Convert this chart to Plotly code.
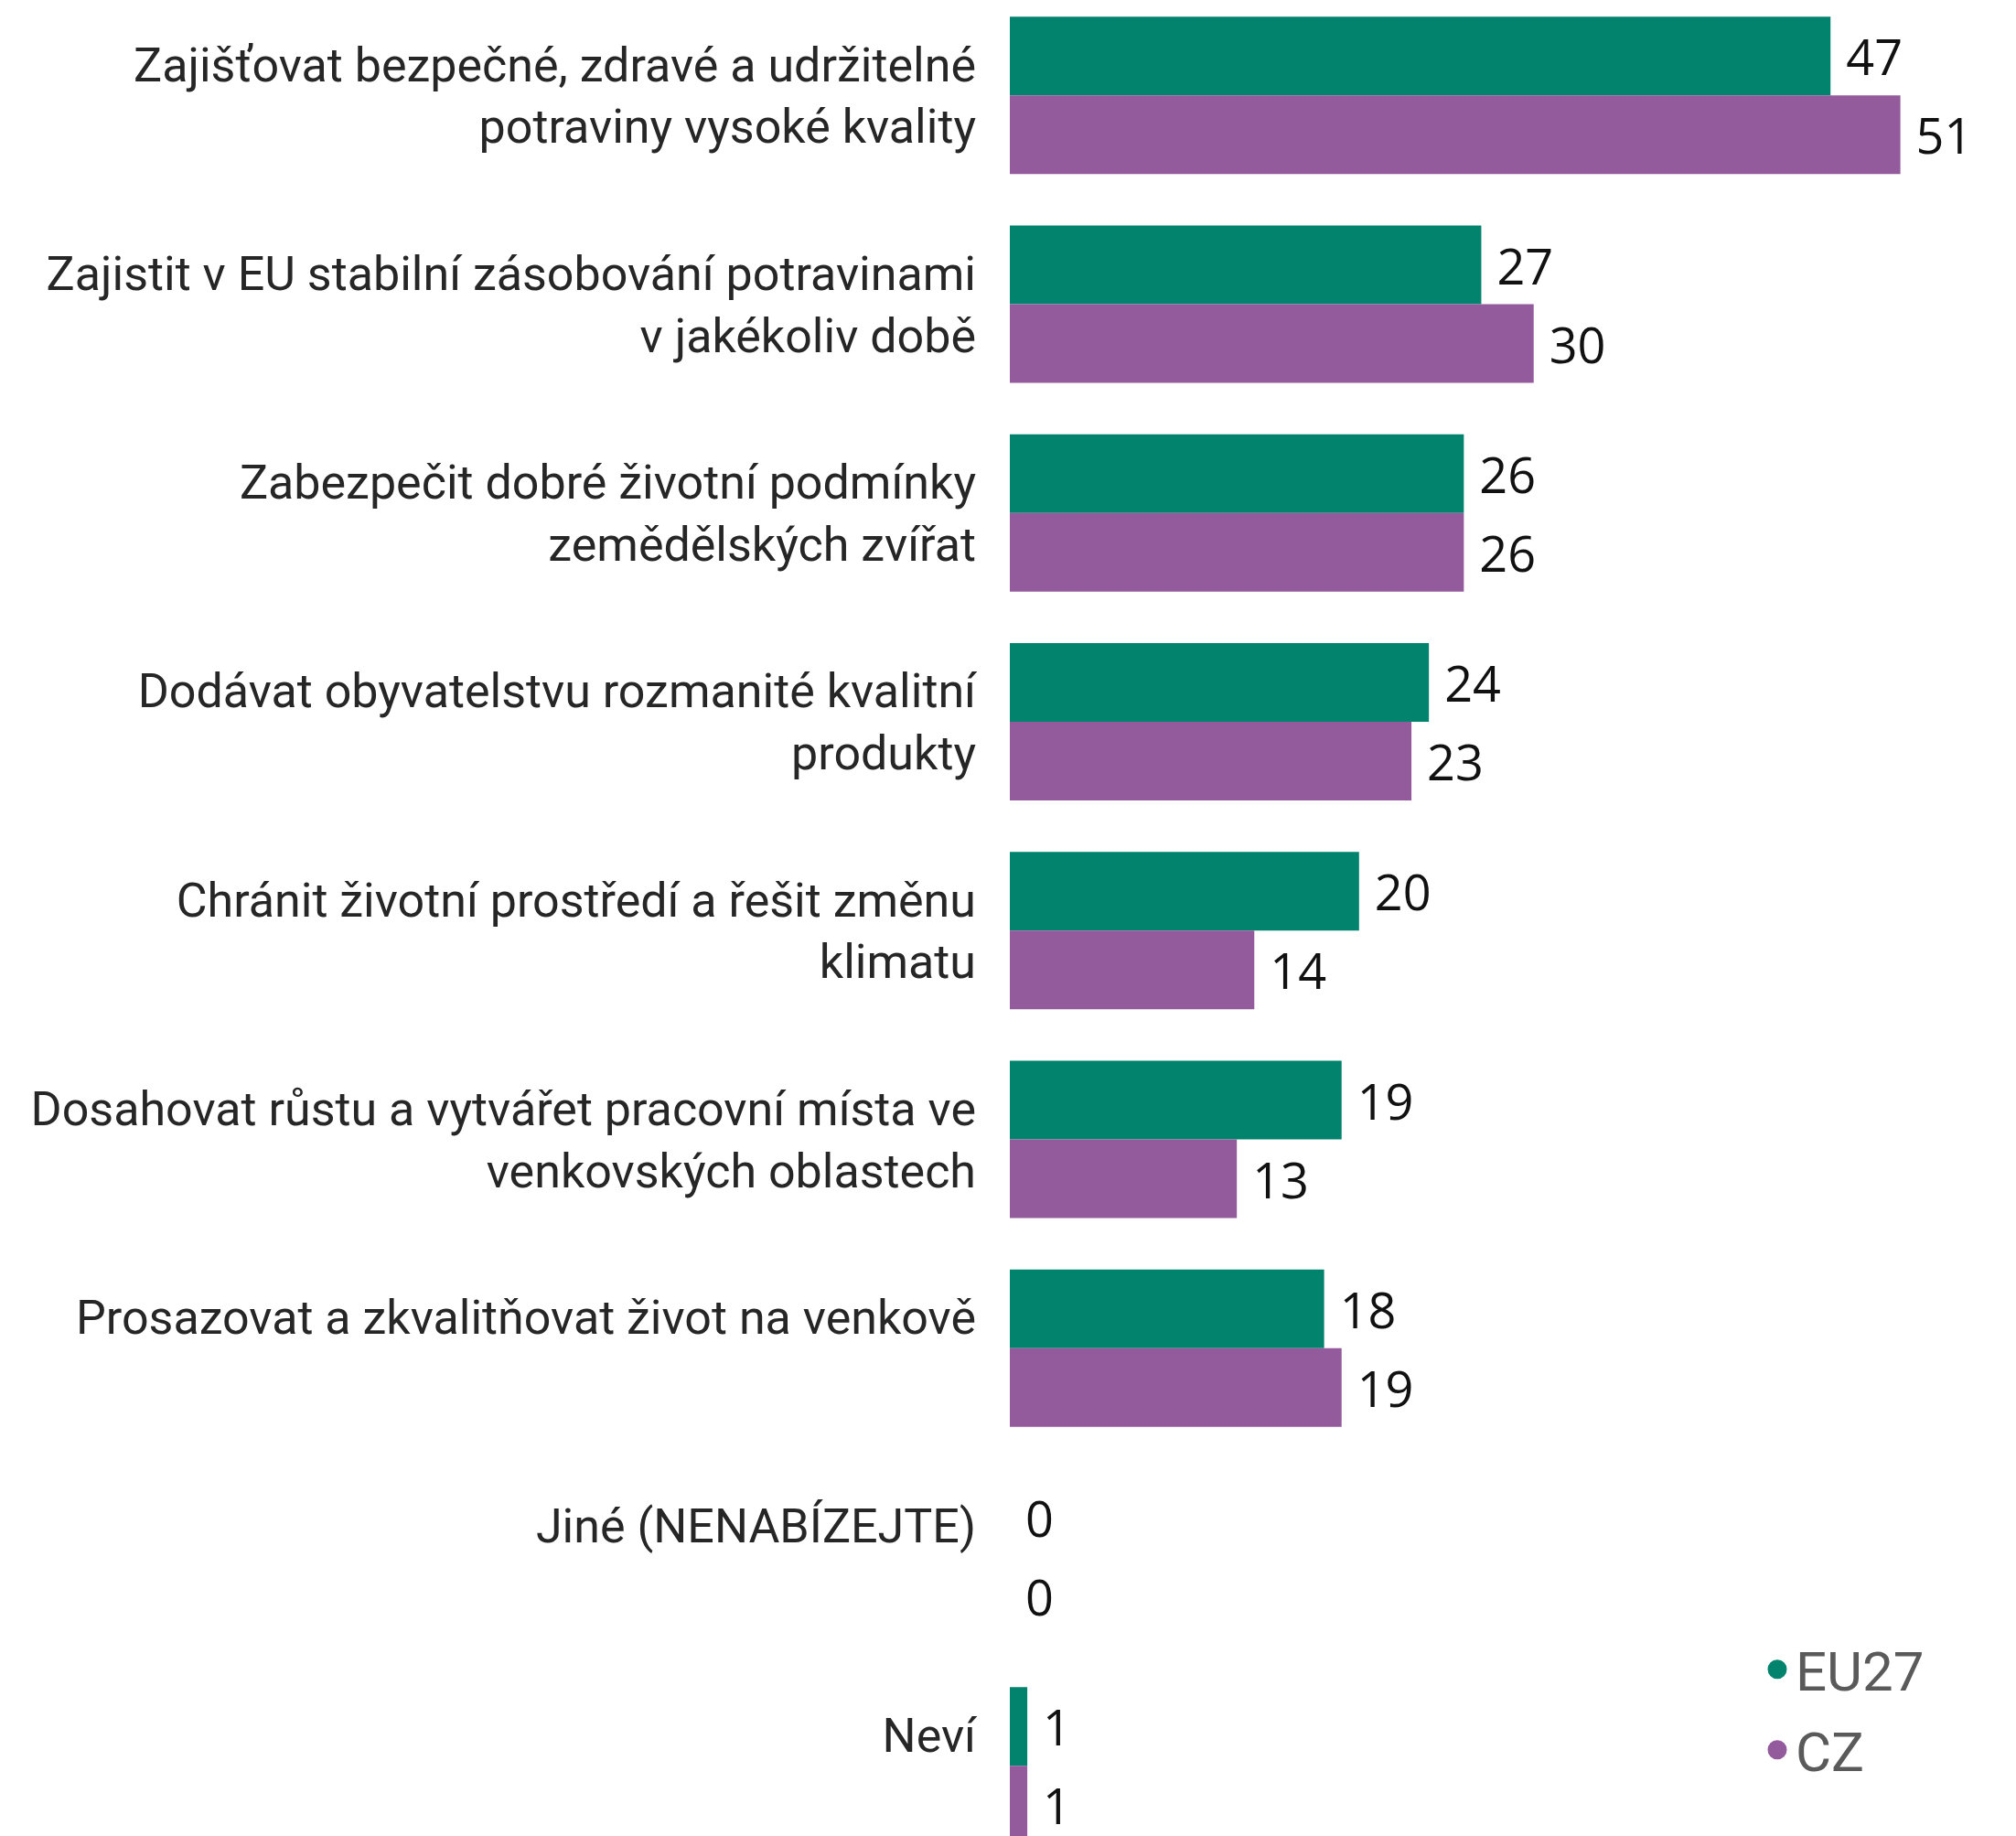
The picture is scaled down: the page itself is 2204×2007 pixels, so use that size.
import plotly.graph_objects as go

categories = [
    "Zajišťovat bezpečné, zdravé a udržitelné<br>potraviny vysoké kvality",
    "Zajistit v EU stabilní zásobování potravinami<br>v jakékoliv době",
    "Zabezpečit dobré životní podmínky<br>zemědělských zvířat",
    "Dodávat obyvatelstvu rozmanité kvalitní<br>produkty",
    "Chránit životní prostředí a řešit změnu<br>klimatu",
    "Dosahovat růstu a vytvářet pracovní místa ve<br>venkovských oblastech",
    "Prosazovat a zkvalitňovat život na venkově<br>\u00a0",
    "Jiné (NENABÍZEJTE)<br>\u00a0",
    "Neví<br>\u00a0",
]
eu27 = [47, 27, 26, 24, 20, 19, 18, 0, 1]
cz = [51, 30, 26, 23, 14, 13, 19, 0, 1]

series_names = ["EU27", "CZ"]
colors = ["#02836e", "#935a9c"]

LABEL_FONT = "Roboto, sans-serif"
VALUE_FONT = "Open Sans, sans-serif"

fig = go.Figure()
for name, vals, col in zip(series_names, [eu27, cz], colors):
    fig.add_trace(go.Bar(
        y=categories, x=vals, orientation="h", name=name,
        marker_color=col, marker_line_width=0,
        text=vals, texttemplate="\u00a0%{text}", textposition="outside",
        cliponaxis=False,
        textfont=dict(family=VALUE_FONT, size=54, color="#111111"),
        showlegend=False,
    ))

# legend entries with round symbols
for name, col in zip(series_names, colors):
    fig.add_trace(go.Scatter(
        x=[None], y=[None], mode="markers", name=name,
        legendgroup=name,
        marker=dict(symbol="circle", size=16, color=col, line=dict(color=col, width=5)),
    ))

fig.update_layout(
    width=2204, height=2007,
    margin=dict(l=1104, r=0, t=0, b=0, autoexpand=False),
    paper_bgcolor="white", plot_bgcolor="white",
    barmode="group", bargap=0.2464, bargroupgap=0,
    legend=dict(
        xref="container", yref="container",
        x=0.8725, y=0.1135, xanchor="left", yanchor="top",
        font=dict(family=LABEL_FONT, size=60, color="#5a5a5a"),
        tracegroupgap=7, bgcolor="rgba(0,0,0,0)",
    ),
    showlegend=True,
)
fig.update_xaxes(range=[0, 1100 / 19.09], visible=False, showgrid=False, zeroline=False)
fig.update_yaxes(
    range=[(2007 - 104.3) / 228.25, -104.3 / 228.25],
    showgrid=False, zeroline=False, showline=False, ticks="",
    ticklabelstandoff=36,
    tickfont=dict(family=LABEL_FONT, size=52, color="#262626"),
)

fig.write_html(
    "out.html",
    config={"displayModeBar": False},
    post_script="document.body.style.margin='0';document.body.style.overflow='hidden';",
)
